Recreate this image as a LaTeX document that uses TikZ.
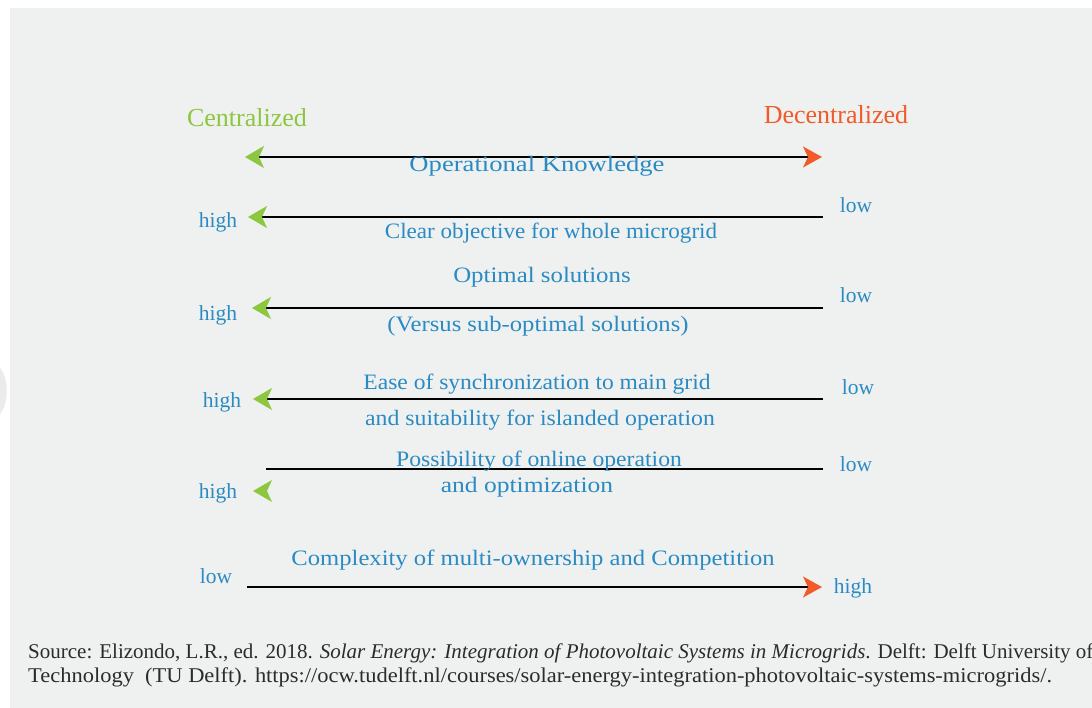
\documentclass[tikz,border=0pt]{standalone}
\usepackage{fontspec}
\setmainfont{Liberation Serif}
\usetikzlibrary{arrows.meta}
\definecolor{bgc}{HTML}{EFF1F1}
\definecolor{cgreen}{HTML}{8DC63F}
\definecolor{corange}{HTML}{F15A29}
\definecolor{cblue}{HTML}{2A8AC2}
\definecolor{ctext}{HTML}{2B2B2B}
\newcommand{\hs}[2]{\scalebox{#1}[1]{#2}}
\tikzset{
  gtip/.tip={Stealth[length=19pt,width=22pt,inset=5pt,color=cgreen]},
  otip/.tip={Stealth[length=19pt,width=21pt,inset=5pt,color=corange]}
}
\begin{document}
\begin{tikzpicture}[x=1pt,y=-1pt,
  lbl/.style={text=cblue, font=\fontsize{22}{26}\selectfont, inner sep=0pt, anchor=base},
  hl/.style={text=cblue, font=\fontsize{21.5}{24}\selectfont, inner sep=0pt, anchor=base},
  head/.style={font=\fontsize{26}{30}\selectfont, inner sep=0pt, anchor=base},
  src/.style={text=ctext, font=\fontsize{21}{24}\selectfont, inner sep=0pt, anchor=base west},
  axis/.style={line width=1.4pt, black}
]
\useasboundingbox (0,0) rectangle (1092,708);
\fill[white] (0,0) rectangle (1092,708);
\fill[bgc] (10,8) rectangle (1092,708);
\fill[black!8] (0,368) .. controls (9,378) and (9,404) .. (0,414) -- cycle;

% headings
\node[head, text=cgreen] (cen) at (247,127) {Centralized};
\node[head, text=corange] (dec) at (836,124) {Decentralized};

% row 1
\coordinate (r1l) at (245,157);
\coordinate (r1r) at (822,157);
\draw[axis, gtip-otip] (r1l) -- (r1r);
\node[lbl] (ok) at (537,172) {\hs{1.21}{Operational Knowledge}};

% row 2
\coordinate (r2l) at (248,217);
\coordinate (r2r) at (823,217);
\draw[axis, -gtip] (r2r) -- (r2l);
\node[hl] (h2) at (218,228) {high};
\node[hl] (l2) at (856,213) {low};
\node[lbl] (t2) at (551,239) {\hs{1.05}{Clear objective for whole microgrid}};

% row 3
\coordinate (r3l) at (252,308);
\coordinate (r3r) at (823,308);
\draw[axis, -gtip] (r3r) -- (r3l);
\node[hl] (h3) at (218,321) {high};
\node[hl] (l3) at (856,303) {low};
\node[lbl] (t3a) at (542,283) {\hs{1.13}{Optimal solutions}};
\node[lbl] (t3b) at (538,332) {\hs{1.12}{(Versus sub-optimal solutions)}};

% row 4
\coordinate (r4l) at (253,399);
\coordinate (r4r) at (823,399);
\draw[axis, -gtip] (r4r) -- (r4l);
\node[hl] (h4) at (222,407) {high};
\node[hl] (l4) at (858,394) {low};
\node[lbl] (t4a) at (537,389) {\hs{1.07}{Ease of synchronization to main grid}};
\node[lbl] (t4b) at (540,425) {\hs{1.08}{and suitability for islanded operation}};

% row 5
\coordinate (r5l) at (266,469);
\coordinate (r5r) at (823,469);
\draw[axis] (r5r) -- (r5l);
\fill[cgreen] (253,491) -- (272,480) -- (267,491) -- (272,502) -- cycle;
\node[hl] (h5) at (218,498) {high};
\node[hl] (l5) at (856,471) {low};
\node[lbl] (t5a) at (539,466) {\hs{1.075}{Possibility of online operation}};
\node[lbl] (t5b) at (527,492) {\hs{1.16}{and optimization}};

% row 6
\coordinate (r6l) at (247,587);
\coordinate (r6r) at (822,587);
\draw[axis, -otip] (r6l) -- (r6r);
\node[hl] (l6) at (216,583) {low};
\node[hl] (h6) at (853,593) {high};
\node[lbl] (t6) at (533,565) {\hs{1.12}{Complexity of multi-ownership and Competition}};

% source
\node[src] (s1) at (28,658) {Source: Elizondo, L.R., ed. 2018. \textit{Solar Energy: Integration of Photovoltaic Systems in Microgrids}. Delft: Delft University of};
\node[src] (s2) at (28,682) {\hs{1.07}{Technology\ \ (TU Delft). https://ocw.tudelft.nl/courses/solar-energy-integration-photovoltaic-systems-microgrids/.}};
\end{tikzpicture}
\end{document}
